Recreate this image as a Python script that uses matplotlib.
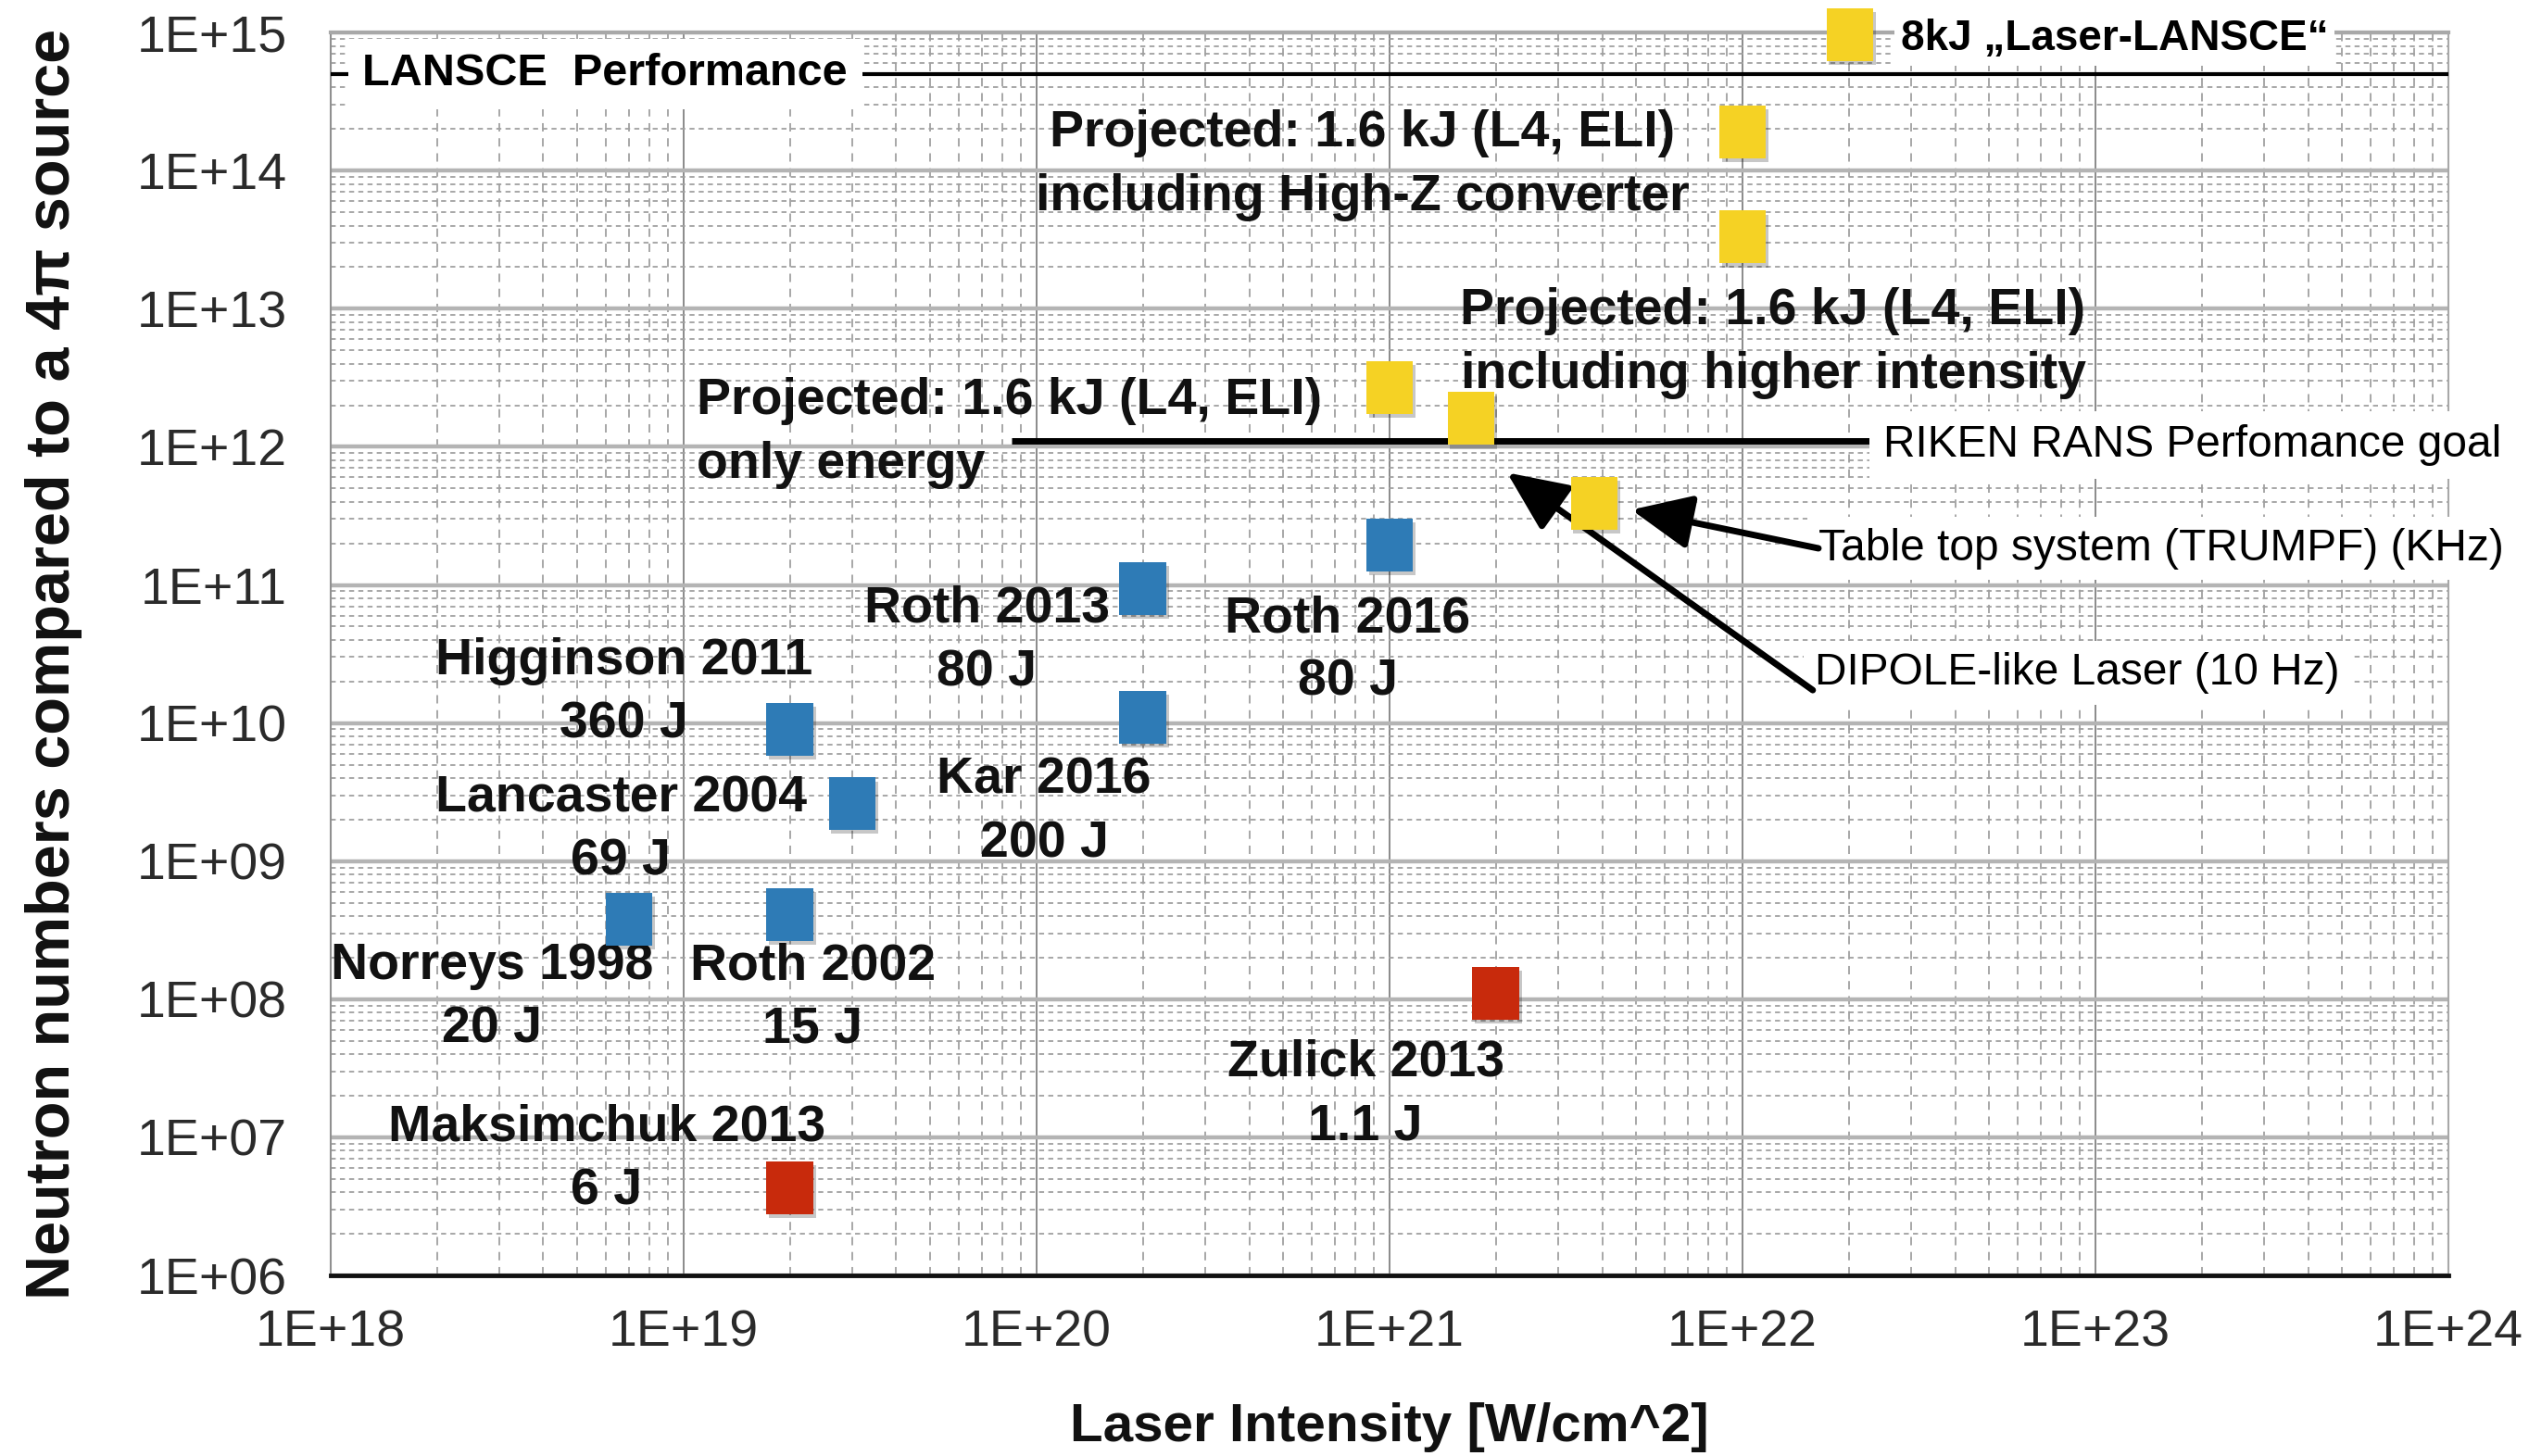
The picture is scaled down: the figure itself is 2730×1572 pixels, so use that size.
import numpy as np
import matplotlib
matplotlib.use("Agg")
import matplotlib.pyplot as plt
import matplotlib.patheffects as pe
from matplotlib.ticker import FixedLocator, FuncFormatter, LogLocator, NullFormatter

# -----------------------------
# Data: laser intensity [W/cm^2] vs neutron yield (4pi)
# -----------------------------
exp_intensity = [7e18, 2e19, 2e19, 3e19, 2e20, 2e20, 1e21]
exp_neutrons = [3.8e8, 4.1e8, 9.0e9, 2.6e9, 1.1e10, 9.4e10, 1.95e11]

low_intensity = [2e19, 2e21]
low_neutrons = [4.3e6, 1.1e8]

proj_intensity = [1e21, 1.7e21, 3.8e21, 1e22, 1e22]
proj_neutrons = [2.7e12, 1.6e12, 3.9e11, 1.9e14, 3.3e13]

lansce_level = 5e14
riken_level = 1.1e12
riken_span = (8.5e19, 2.3e22)

x_decades = [18, 19, 20, 21, 22, 23, 24]
y_decades = [6, 7, 8, 9, 10, 11, 12, 13, 14, 15]

# label text, x, y, alignment
point_labels = [
    ("Projected: 1.6 kJ (L4, ELI)\nincluding High-Z converter", 8.36e20, 1.09e14, "center"),
    ("Projected: 1.6 kJ (L4, ELI)\nincluding higher intensity", 1.22e22, 5.66e12, "center"),
    ("Projected: 1.6 kJ (L4, ELI)\nonly energy", 1.09e19, 1.26e12, "left"),
    ("Roth 2013\n80 J", 7.22e19, 3.92e10, "center"),
    ("Roth 2016\n80 J", 7.6e20, 3.34e10, "center"),
    ("Higginson 2011\n360 J", 6.78e18, 1.64e10, "center"),
    ("Lancaster 2004\n69 J", 6.63e18, 1.67e9, "center"),
    ("Kar 2016\n200 J", 1.05e20, 2.27e9, "center"),
    ("Norreys 1998\n20 J", 2.86e18, 1.02e8, "center"),
    ("Roth 2002\n15 J", 2.32e19, 1.02e8, "center"),
    ("Zulick 2013\n1.1 J", 8.55e20, 2.03e7, "center"),
    ("Maksimchuk 2013\n6 J", 6.04e18, 6.93e6, "center"),
]

BLUE = "#2e7bb6"
RED = "#c82a0c"
YELLOW = "#f5d224"

SANS = ["Liberation Sans", "DejaVu Sans"]

fig = plt.figure(figsize=(27.3, 15.72), dpi=100)
ax = fig.add_axes([0.1308, 0.124, 0.8374, 0.8537])

ax.set_xscale("log")
ax.set_yscale("log")
ax.set_xlim(1e18, 1e24)
ax.set_ylim(1e6, 1e15)

# -----------------------------
# Grid + frame
# -----------------------------
ax.xaxis.set_major_locator(FixedLocator([10.0 ** e for e in x_decades]))
ax.yaxis.set_major_locator(FixedLocator([10.0 ** e for e in y_decades]))
ax.xaxis.set_minor_locator(LogLocator(base=10, subs=np.arange(2, 10), numticks=20))
ax.yaxis.set_minor_locator(LogLocator(base=10, subs=np.arange(2, 10), numticks=20))
ax.xaxis.set_minor_formatter(NullFormatter())
ax.yaxis.set_minor_formatter(NullFormatter())
fmt = FuncFormatter(lambda v, p: "1E+%02d" % int(round(np.log10(v))))
ax.xaxis.set_major_formatter(fmt)
ax.yaxis.set_major_formatter(fmt)

ax.set_axisbelow(True)
ax.grid(which="major", axis="x", color="#8a8a8a", lw=1.4, ls="-")
ax.grid(which="major", axis="y", color="#b4b4b4", lw=3.2, ls="-")
ax.grid(which="minor", axis="x", color="#a0a0a0", lw=1.3, ls=(0, (5, 4)))
ax.grid(which="minor", axis="y", color="#a0a0a0", lw=1.3, ls=(0, (3, 2.5)))

ax.tick_params(which="both", length=0)
ax.tick_params(axis="x", pad=26, labelsize=40, labelcolor="#2a2a2a")
ax.tick_params(axis="y", pad=34, labelsize=40, labelcolor="#2a2a2a")
for lab in ax.get_xticklabels() + ax.get_yticklabels():
    lab.set_family(SANS)

ax.spines["top"].set_color("#a8a8a8")
ax.spines["top"].set_linewidth(3)
ax.spines["left"].set_color("#909090")
ax.spines["left"].set_linewidth(1.5)
ax.spines["right"].set_color("#a8a8a8")
ax.spines["right"].set_linewidth(1.5)
ax.spines["bottom"].set_color("#111111")
ax.spines["bottom"].set_linewidth(3.5)

# -----------------------------
# Reference performance lines
# -----------------------------
ax.axhline(lansce_level, color="black", lw=3, zorder=3)
ax.hlines(riken_level, riken_span[0], riken_span[1], color="black", lw=5, zorder=3)

ax.text(1.23e18, lansce_level, "LANSCE  Performance", family=SANS, weight="bold",
        fontsize=35, ha="left", va="center", zorder=6,
        bbox=dict(facecolor="white", edgecolor="none", boxstyle="square,pad=0.32"))

ax.text(2.5e22, 1.03e12, "RIKEN RANS Perfomance goal", family=SANS, fontsize=34.5,
        ha="left", va="center", zorder=6,
        bbox=dict(facecolor="white", edgecolor="none", boxstyle="square,pad=0.3"))

ax.text(1.64e22, 1.84e11, "Table top system (TRUMPF) (KHz)", family=SANS, fontsize=34.5,
        ha="left", va="center", zorder=6,
        bbox=dict(facecolor="white", edgecolor="none", boxstyle="square,pad=0.25"))

ax.text(1.6e22, 2.32e10, "DIPOLE-like Laser (10 Hz)", family=SANS, fontsize=34.5,
        ha="left", va="center", zorder=6,
        bbox=dict(facecolor="white", edgecolor="none", boxstyle="square,pad=0.25"))

arrow = dict(arrowstyle="-|>,head_length=1.0,head_width=0.45", color="black",
             lw=5, mutation_scale=40, shrinkA=0, shrinkB=0)
ax.annotate("", xy=(4.84e21, 3.5e11), xytext=(1.64e22, 1.84e11), arrowprops=arrow, zorder=7)
ax.annotate("", xy=(2.15e21, 6.5e11), xytext=(1.58e22, 1.73e10), arrowprops=arrow, zorder=7)

# -----------------------------
# Data points
# -----------------------------
rect = [(-0.445, -0.5), (0.445, -0.5), (0.445, 0.5), (-0.445, 0.5), (-0.445, -0.5)]
shadow = [pe.SimplePatchShadow(offset=(2, -3), alpha=0.22, shadow_rgbFace="k"), pe.Normal()]

ax.plot(exp_intensity, exp_neutrons, ls="none", marker=rect, ms=41, mew=0,
        color=BLUE, zorder=8, path_effects=shadow)
ax.plot(low_intensity, low_neutrons, ls="none", marker=rect, ms=41, mew=0,
        color=RED, zorder=8, path_effects=shadow)
proj, = ax.plot(proj_intensity, proj_neutrons, ls="none", marker=rect, ms=41, mew=0,
                color=YELLOW, zorder=8, path_effects=shadow,
                label="8kJ \u201eLaser-LANSCE\u201c")

for txt, x, y, ha in point_labels:
    ax.text(x, y, txt, family=SANS, weight="bold", fontsize=40, color="#111111",
            ha=ha, va="center", multialignment=ha, linespacing=1.42, zorder=5)

leg = ax.legend(handles=[proj], loc="center left", bbox_to_anchor=(0.713, 0.9735),
                bbox_transform=fig.transFigure, frameon=False, borderpad=0,
                handlelength=1.2, handletextpad=0.6, numpoints=1,
                prop=dict(family=SANS, weight="bold", size=33))
leg.set_zorder(9)
for t in leg.get_texts():
    t.set_bbox(dict(facecolor="white", edgecolor="none", boxstyle="square,pad=0.15"))

# -----------------------------
# Axis labels
# -----------------------------
ax.set_xlabel("Laser Intensity [W/cm^2]", family=SANS, weight="bold", fontsize=42,
              color="#111111")
ax.xaxis.set_label_coords(0.5, -0.122)
ax.xaxis.label.set_va("center")

ax.set_ylabel("Neutron numbers compared to a 4\u03c0 source", family=SANS, weight="bold",
              fontsize=48, color="#111111")
ax.yaxis.set_label_coords(-0.131, 0.492)
ax.yaxis.label.set_va("center")

fig.savefig("out.png", dpi=100)
